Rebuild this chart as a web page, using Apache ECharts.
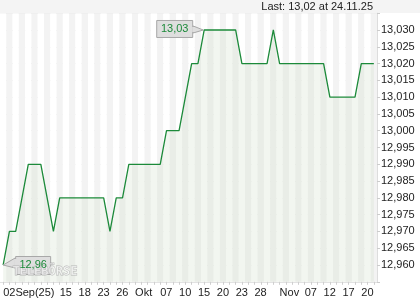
<!DOCTYPE html>
<html><head><meta charset="utf-8">
<script src="https://cdn.jsdelivr.net/npm/echarts@6/dist/echarts.min.js"></script>
<style>html,body{margin:0;padding:0;background:#fff}#c{width:420px;height:300px}</style>
</head><body><div id="c"></div>
<script>
const dates = ['02.09.25','03.09.25','04.09.25','05.09.25','08.09.25','09.09.25','10.09.25','11.09.25','12.09.25','15.09.25',
'16.09.25','17.09.25','18.09.25','19.09.25','22.09.25','23.09.25','24.09.25','25.09.25','26.09.25','29.09.25','30.09.25',
'01.10.25','02.10.25','03.10.25','06.10.25','07.10.25','08.10.25','09.10.25','10.10.25','13.10.25','14.10.25','15.10.25',
'16.10.25','17.10.25','20.10.25','21.10.25','22.10.25','23.10.25','24.10.25','27.10.25','28.10.25','29.10.25','30.10.25','31.10.25',
'03.11.25','04.11.25','05.11.25','06.11.25','07.11.25','10.11.25','11.11.25','12.11.25','13.11.25','14.11.25',
'17.11.25','18.11.25','19.11.25','20.11.25','21.11.25','24.11.25'];
const prices = [12.960,12.970,12.970,12.980,12.990,12.990,12.990,12.980,12.970,12.980,
12.980,12.980,12.980,12.980,12.980,12.980,12.980,12.970,12.980,12.980,12.990,
12.990,12.990,12.990,12.990,12.990,13.000,13.000,13.000,13.010,13.020,13.020,
13.030,13.030,13.030,13.030,13.030,13.030,13.020,13.020,13.020,13.020,13.020,13.030,
13.020,13.020,13.020,13.020,13.020,13.020,13.020,13.020,13.010,13.010,
13.010,13.010,13.010,13.020,13.020,13.020];
const tickIdx = [0,9,12,15,18,21,25,28,31,34,37,40,44,48,51,54,57];
const tickText = ['02Sep(25)','15','18','23','26','Okt','07','10','15','20','23','28','Nov','07','12','17','20'];
const headerText = 'Last: 13,02 at 24.11.25';
const maxLabel = '13,03', minLabel = '12,96';

const FONT = 'Liberation Sans, Arial, sans-serif';
const chart = echarts.init(document.getElementById('c'), null, {renderer:'canvas'});
chart.setOption({
  animation:false,
  backgroundColor:'#ffffff',
  grid:{left:0,right:43,top:13.2,bottom:18.2},
  xAxis:{
    type:'category', data:dates, boundaryGap:true,
    axisLine:{show:true,lineStyle:{color:'#e2e2e2'}},
    axisTick:{show:true,interval:0,alignWithLabel:true,length:3,lineStyle:{color:'#cfcfcf'}},
    axisLabel:{
      interval:(i)=>tickIdx.includes(i),
      formatter:(v,i)=>{const k=tickIdx.indexOf(i);return k>=0?tickText[k]:'';},
      align:'left', margin:6, color:'#222', fontSize:11, fontFamily:FONT
    },
    splitLine:{show:false},
    splitArea:{show:true,interval:0,areaStyle:{color:['#ffffff','#f3f3f3']}}
  },
  yAxis:{
    type:'value', position:'right', min:12.955, max:13.035, interval:0.005,
    axisLine:{show:true,lineStyle:{color:'#dddddd'}},
    axisTick:{show:true,length:3,lineStyle:{color:'#cccccc'}},
    axisLabel:{margin:4,color:'#222',fontSize:11,fontFamily:FONT,
      formatter:(v)=>{if(v<12.9575||v>13.0325)return '';return v.toFixed(3).replace('.',',');}},
    splitLine:{show:true,lineStyle:{color:'#e4e4e4',width:1}}
  },
  series:[{
    type:'line', data:prices, symbol:'none',
    lineStyle:{color:'#1c8a3a',width:1.3},
    areaStyle:{color:'rgba(205,222,200,0.38)'},
    z:3
  }]
});

const maxI = prices.indexOf(Math.max(...prices));
const minI = prices.indexOf(Math.min(...prices));
const pMax = chart.convertToPixel({seriesIndex:0},[maxI,prices[maxI]]);
const pMin = chart.convertToPixel({seriesIndex:0},[minI,prices[minI]]);

chart.setOption({graphic:[
  {type:'rect',left:0,top:0,shape:{width:420,height:13},style:{fill:'#f4f4f4'},z:0,silent:true},
  {type:'text',right:47,top:1,style:{text:headerText,font:'11px '+FONT,fill:'#222'},z:10},
  // max callout
  {type:'polygon',shape:{points:[[pMax[0]-11,pMax[1]-4],[pMax[0]-1,pMax[1]],[pMax[0]-11,pMax[1]+3]]},
    style:{fill:'#dedede',stroke:'#a8a8a8',lineWidth:1},z:20},
  {type:'rect',shape:{x:pMax[0]-47.5,y:pMax[1]-9.5,width:36,height:17},
    style:{fill:'#dedede',stroke:'#a8a8a8',lineWidth:1},z:21},
  {type:'rect',shape:{x:pMax[0]-12,y:pMax[1]-3,width:2,height:5},style:{fill:'#dedede'},z:22},
  {type:'text',x:pMax[0]-29.5,y:pMax[1]-1,style:{text:maxLabel,font:'11px '+FONT,fill:'#1c8a3a',align:'center',verticalAlign:'middle'},z:23},
  // min callout
  {type:'polygon',shape:{points:[[pMin[0]+12,pMin[1]-7],[pMin[0],pMin[1]],[pMin[0]+12,pMin[1]+3]]},
    style:{fill:'#dedede',stroke:'#a8a8a8',lineWidth:1},z:20},
  {type:'rect',shape:{x:pMin[0]+12.5,y:pMin[1]-8.5,width:35,height:18},
    style:{fill:'#dedede',stroke:'#a8a8a8',lineWidth:1},z:21},
  {type:'rect',shape:{x:pMin[0]+11,y:pMin[1]-6,width:3,height:8},style:{fill:'#dedede'},z:22},
  // watermark
  {type:'text',left:12,top:265,style:{text:'TELEBÖRSE',font:'bold 12px DejaVu Sans Mono, monospace',fill:'rgba(255,255,255,0.55)',stroke:'rgba(170,170,170,0.8)',lineWidth:0.8},z:24},
  {type:'text',x:pMin[0]+30,y:pMin[1],style:{text:minLabel,font:'11px '+FONT,fill:'#1c8a3a',align:'center',verticalAlign:'middle'},z:25}
]});
</script></body></html>
